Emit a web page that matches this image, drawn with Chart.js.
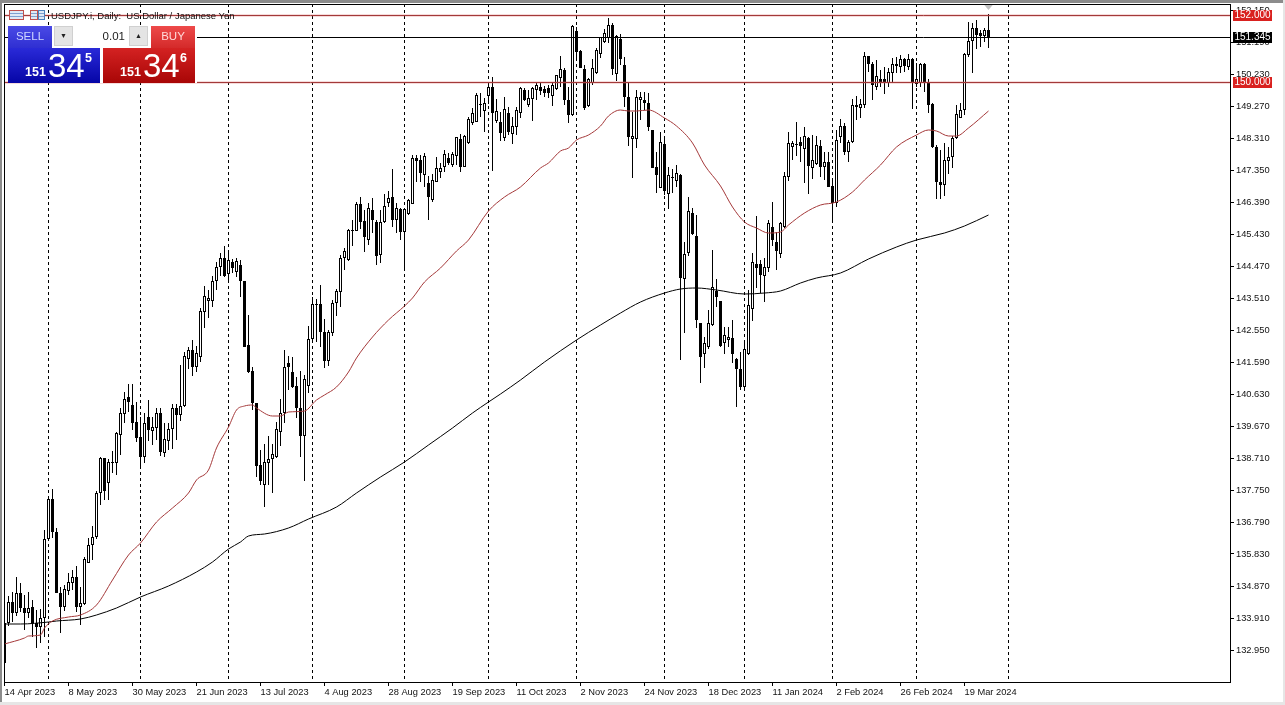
<!DOCTYPE html>
<html>
<head>
<meta charset="utf-8">
<title>USDJPY.i, Daily</title>
<script src="https://cdn.jsdelivr.net/npm/chart.js@4/dist/chart.umd.min.js"></script>
<style>
    html, body { margin: 0; padding: 0; background: #fff; overflow: hidden; }
    #wrap { position: relative; width: 1285px; height: 705px; font-family: "Liberation Sans", Arial, sans-serif; }
    canvas { display: block; }
    #title { position: absolute; left: 51px; top: 9px; font-size: 9.5px; line-height: 13px; color: #111; white-space: pre; }
    .ico { position: absolute; top: 10px; height: 10px; box-sizing: border-box; border: 1px solid #c0504d; background: repeating-linear-gradient(#dfe8f5 0 2px, #7f9fd0 2px 3px); }
    #panel { position: absolute; left: 8px; top: 26px; width: 189px; height: 57px; background: #fff; }
    .btn { position: absolute; top: 0; width: 44px; height: 22px; line-height: 21px; text-align: center; font-size: 11.5px; box-sizing: border-box; }
    #sell_btn { left: 0; background: linear-gradient(#4a4ae6, #2f2fd2); color: #cfd6ff; }
    #buy_btn { left: 143px; background: linear-gradient(#ee4a4a, #d42a2a); color: #ffd9d9; }
    .quote { position: absolute; top: 22px; width: 92px; height: 35px; color: #fff; }
    #bid_box { left: 0; background: linear-gradient(#2a2ad8, #0505a6); }
    #ask_box { left: 95px; background: linear-gradient(#d42222, #a80606); }
    .quote span { position: absolute; }
    .q_big { left: 40px; top: 0; font-size: 33px; line-height: 36px; }
    .q_small { left: 17px; top: 17px; font-size: 12.5px; line-height: 14px; font-weight: bold; }
    .q_pip { left: 77px; top: 3px; font-size: 12.5px; line-height: 14px; font-weight: bold; }
    .spin { position: absolute; top: 0; height: 20px; width: 19px; background: #e4e4e4; border: 1px solid #d0d0d0; box-sizing: border-box; text-align: center; font-size: 7px; line-height: 18px; color: #222; }
    #lot { position: absolute; left: 65px; top: 0; width: 56px; height: 20px; background: #fff; font-size: 11.5px; line-height: 20px; text-align: right; color: #222; padding-right: 4px; box-sizing: border-box; }
</style>
</head>
<body>
<div id="wrap">
    <canvas id="priceChart" width="1285" height="705"></canvas>
    <div class="ico" style="left:9px;width:15px;"></div>
    <div class="ico" style="left:30px;width:8px;"></div>
    <div class="ico" style="left:38px;width:7px;border-color:#4f81bd;"></div>
    <div id="title">USDJPY.i, Daily:  US Dollar / Japanese Yen</div>
    <div id="panel">
        <div id="sell_btn" class="btn">SELL</div>
        <div class="spin" style="left:46px;">▼</div>
        <div id="lot">0.01</div>
        <div class="spin" style="left:121px;">▲</div>
        <div id="buy_btn" class="btn">BUY</div>
        <div id="bid_box" class="quote"><span class="q_small">151</span><span class="q_big">34</span><span class="q_pip">5</span></div>
        <div id="ask_box" class="quote"><span class="q_small">151</span><span class="q_big">34</span><span class="q_pip">6</span></div>
    </div>
</div>

<script>
/* ── Data ─────────────────────────────────────────────── */
var opens = [
    133.76,133.76,134.39,134.06,134.66,134.21,134.06,134.24,133.76,133.64,
    133.91,136.28,137.48,136.49,134.66,134.24,134.72,134.96,135.14,134.24,
    134.33,135.56,136.10,136.34,137.66,138.71,137.96,138.59,138.56,139.40,
    140.03,140.54,140.30,139.79,139.34,138.74,139.94,139.52,139.61,140.06,
    138.86,139.22,139.58,140.21,140.00,140.27,141.68,141.95,141.44,141.74,
    143.09,143.42,143.42,144.02,144.44,144.71,144.23,144.59,144.29,144.50,
    144.02,142.10,141.32,140.36,138.50,137.90,138.56,138.68,138.74,139.49,
    140.06,141.56,141.29,140.87,140.21,139.37,140.87,142.28,143.30,143.33,
    142.49,141.62,142.46,143.36,143.69,144.71,144.65,145.52,145.52,146.33,
    145.82,145.25,146.15,145.79,144.80,145.79,146.36,146.54,145.85,146.18,
    145.49,146.03,146.33,147.71,147.65,147.20,146.96,146.45,146.99,147.29,
    147.44,147.71,147.50,147.77,148.28,147.44,148.16,148.76,148.79,149.30,
    149.12,149.57,149.84,148.82,148.79,148.31,149.06,148.43,148.64,149.06,
    149.75,149.30,149.48,149.75,149.84,149.78,149.81,149.57,149.78,150.11,
    150.35,149.45,149.00,151.52,150.92,150.38,149.27,149.96,150.26,150.83,
    151.19,151.31,151.70,150.23,151.28,150.50,149.54,148.28,148.28,149.45,
    149.45,149.36,148.55,147.44,146.81,148.13,146.63,147.11,147.02,147.20,
    144.08,144.86,146.06,145.37,142.76,141.83,142.04,142.70,143.72,143.42,
    142.16,142.25,142.31,141.68,141.38,140.84,141.83,143.18,144.53,144.53,
    144.17,144.41,145.64,145.19,144.83,145.64,147.14,148.04,148.13,148.19,
    147.98,148.31,147.41,147.53,148.07,147.44,147.59,146.87,146.36,148.34,
    148.67,147.89,148.19,149.30,149.21,149.30,150.77,150.53,149.84,150.08,
    150.08,149.96,150.26,150.53,150.44,150.68,150.44,150.68,149.93,149.96,
    150.53,149.99,149.33,148.04,146.99,146.90,147.62,147.74,148.31,148.91,
    149.15,150.80,151.22,151.61,151.46,151.37,151.55
];
var highs = [
    133.76,134.57,134.69,135.14,134.96,134.60,134.69,134.45,134.15,134.18,
    136.55,137.57,137.78,136.61,134.84,134.90,135.26,135.35,135.47,134.84,
    135.74,136.31,136.67,137.72,138.74,138.71,138.68,138.92,139.49,140.21,
    140.69,140.93,140.93,140.39,139.94,140.06,140.45,139.94,140.21,140.21,
    139.76,139.76,140.33,140.33,141.50,141.89,142.04,142.25,142.07,143.21,
    143.87,143.75,144.17,144.59,144.86,145.07,144.95,144.68,144.71,144.65,
    144.02,143.00,141.44,140.36,138.95,139.13,139.37,139.13,139.79,140.48,
    141.95,141.77,141.74,141.14,141.32,141.20,142.67,143.54,143.48,143.90,
    142.88,142.55,143.45,143.78,144.80,145.01,145.58,145.85,146.39,146.54,
    146.15,146.36,146.51,145.85,146.15,146.63,146.72,147.38,146.36,146.21,
    146.21,146.48,147.80,147.80,147.80,147.86,147.17,147.23,147.74,147.56,
    147.95,147.86,147.89,148.34,148.43,148.40,148.94,149.21,149.66,149.66,
    149.51,149.96,150.14,149.48,149.09,149.54,149.24,148.94,149.24,149.84,
    149.81,149.75,149.84,149.96,149.96,149.87,149.90,149.96,150.20,150.77,
    150.41,149.84,151.70,151.64,150.95,150.50,150.11,150.68,151.01,151.34,
    151.58,151.91,151.76,151.40,151.43,150.74,149.99,149.09,149.75,149.69,
    149.69,149.66,148.55,147.89,148.49,148.34,147.44,147.38,147.50,147.23,
    145.19,146.54,146.21,146.00,142.76,142.34,143.15,144.95,144.08,143.42,
    142.64,142.64,142.85,141.71,141.89,142.22,143.75,144.86,145.97,144.65,
    144.71,145.85,146.39,145.49,145.79,147.29,148.49,148.22,148.79,148.34,
    148.64,148.34,148.40,148.37,148.25,147.89,147.89,147.11,148.55,148.88,
    148.76,148.25,149.48,149.57,149.48,150.89,150.77,150.59,150.65,150.35,
    150.44,150.41,150.71,150.74,150.80,150.71,150.83,150.71,150.56,150.56,
    150.56,150.08,149.36,148.10,147.95,148.16,148.04,148.37,149.30,149.36,
    150.86,151.79,151.76,151.85,151.55,151.61,152.03
];
var lows = [
    132.56,133.67,133.79,133.97,134.09,133.55,133.91,133.34,133.01,133.16,
    133.34,136.25,136.31,134.66,133.46,134.12,134.60,134.75,134.09,133.70,
    134.30,135.56,135.65,136.28,137.30,137.45,137.45,138.26,138.20,138.80,
    139.76,140.09,139.55,139.19,138.41,138.56,139.22,139.10,139.25,138.77,
    138.74,138.95,138.98,139.25,139.82,140.24,141.38,141.17,141.29,141.59,
    142.61,142.91,143.24,143.75,144.17,144.14,143.99,144.26,144.14,143.54,
    142.04,141.26,140.15,138.14,137.90,137.24,137.90,137.66,138.71,139.07,
    139.76,140.75,140.81,139.91,138.74,138.02,140.66,142.25,142.19,142.04,
    141.41,141.47,142.37,142.97,143.24,144.35,144.62,145.07,145.52,145.58,
    144.89,145.10,145.46,144.50,144.56,145.76,146.24,145.64,145.46,145.25,
    144.32,146.00,146.33,146.99,146.99,146.84,145.85,146.39,146.99,147.11,
    147.29,147.50,147.44,147.50,147.29,147.44,148.13,148.70,148.79,148.94,
    148.49,149.33,147.32,148.76,148.22,148.22,148.40,148.13,148.40,148.91,
    149.42,149.24,148.82,149.45,149.60,149.54,149.51,149.27,149.75,149.84,
    149.30,148.76,148.97,150.62,150.41,149.15,149.24,149.90,150.23,150.71,
    151.16,151.16,150.20,150.02,150.50,149.24,148.07,147.11,148.01,148.85,
    149.15,148.52,147.41,146.66,146.81,146.60,146.18,146.66,146.84,141.65,
    142.46,144.77,145.40,142.61,140.96,141.41,141.98,142.67,143.24,142.04,
    141.83,142.04,141.56,140.24,140.75,140.78,141.80,142.82,143.81,143.66,
    143.39,144.29,145.07,144.35,144.71,145.61,147.02,147.65,147.77,147.59,
    146.96,146.63,147.08,147.50,147.14,147.05,146.84,145.85,146.24,148.16,
    147.80,147.59,148.16,148.85,148.91,149.21,150.29,149.45,149.75,149.84,
    149.63,149.84,149.96,150.26,150.26,150.29,150.35,149.18,149.84,149.84,
    149.69,149.06,148.01,146.48,146.48,146.57,147.23,147.41,148.28,148.91,
    149.00,150.74,150.26,150.98,151.04,151.19,151.01
];
var closes = [
    132.56,134.39,134.06,134.66,134.21,134.06,134.21,133.76,133.64,133.91,
    136.28,137.48,136.49,134.66,134.24,134.78,134.99,135.14,134.24,134.36,
    135.68,136.10,136.34,137.66,138.71,137.72,138.59,138.56,139.46,140.06,
    140.48,140.39,139.76,139.31,138.74,139.76,139.55,139.64,140.06,138.89,
    139.28,139.58,140.21,140.00,140.27,141.77,141.95,141.44,141.86,143.12,
    143.57,143.51,144.02,144.44,144.71,144.17,144.65,144.41,144.62,144.02,
    142.04,141.29,140.36,138.47,138.02,138.59,138.68,138.83,139.58,140.06,
    141.44,141.44,140.84,140.21,139.37,141.08,142.28,143.33,143.33,142.49,
    141.62,142.49,143.36,143.72,144.71,144.92,145.55,145.55,146.33,145.79,
    145.34,146.21,145.85,144.77,145.79,146.27,146.51,145.85,146.21,145.49,
    146.18,146.45,147.71,147.62,147.26,147.77,146.54,147.05,147.41,147.41,
    147.83,147.56,147.83,148.34,147.44,148.37,148.88,149.06,149.60,149.33,
    149.36,149.84,149.06,149.12,148.46,149.18,148.49,148.67,149.15,149.81,
    149.45,149.51,149.81,149.90,149.72,149.66,149.66,149.90,150.20,150.38,
    149.45,149.00,151.67,150.89,150.41,149.21,150.08,150.41,150.95,151.34,
    151.46,151.70,150.38,151.37,150.68,149.54,148.34,148.37,149.54,149.54,
    149.36,148.64,147.41,147.20,148.19,146.72,147.20,147.14,147.26,144.11,
    144.83,146.12,145.43,142.85,141.74,142.16,142.76,143.84,143.54,142.07,
    142.40,142.34,141.83,141.38,140.84,141.98,143.30,144.59,144.41,144.20,
    144.44,145.76,145.25,144.92,145.76,147.17,148.16,148.16,148.10,148.07,
    148.37,147.47,147.65,148.10,147.44,147.59,146.84,146.36,148.25,148.67,
    147.89,148.19,149.30,149.24,149.33,150.77,150.53,149.90,150.17,149.99,
    149.99,150.29,150.53,150.47,150.68,150.47,150.68,149.96,150.08,150.53,
    149.96,149.30,148.04,146.99,146.90,147.65,147.74,148.31,149.03,149.15,
    150.83,151.22,151.61,151.40,151.37,151.55,151.34
];

// moving averages at these bars
var ma50Bars = [0,5,6,9,10,12,16,19,23,27,31,34,38,42,46,48,51,53,56,58,60,62,63,67,69,71,75,78,80,83,86,88,92,96,100,102,105,109,113,116,121,125,129,134,136,139,141,143,146,149,151,154,156,158,161,165,168,172,175,179,182,185,188,191,194,196,200,204,208,212,215,219,223,228,231,233,236,238,241,246];
var ma50 = [133.13,133.31,133.37,133.40,133.61,133.82,133.94,134.00,134.30,135.05,135.80,136.16,136.79,137.21,137.66,138.05,138.35,139.01,139.64,140.15,140.27,140.30,140.21,139.97,139.97,140.09,140.12,140.45,140.60,140.84,141.29,141.71,142.34,142.85,143.27,143.51,143.99,144.41,144.92,145.25,146.12,146.54,146.84,147.41,147.56,147.92,148.01,148.25,148.40,148.67,148.97,149.15,149.12,149.12,149.15,148.91,148.67,148.16,147.50,146.87,146.24,145.79,145.61,145.46,145.49,145.70,146.06,146.30,146.39,146.69,147.05,147.50,148.04,148.40,148.55,148.52,148.37,148.37,148.61,149.12];
var ma200Bars = [0,4,11,13,19,23,28,34,41,48,52,56,59,61,65,71,76,83,88,94,100,106,112,117,121,124,129,135,143,149,154,159,165,169,173,178,185,190,194,199,203,209,216,223,228,235,240,246];
var ma200 = [133.73,133.73,133.79,133.82,133.88,134.00,134.21,134.54,134.87,135.29,135.59,135.98,136.19,136.37,136.43,136.61,136.88,137.24,137.66,138.14,138.59,139.10,139.61,140.06,140.39,140.63,141.05,141.59,142.25,142.70,143.06,143.39,143.66,143.78,143.81,143.75,143.63,143.66,143.72,143.96,144.11,144.26,144.68,145.04,145.25,145.46,145.67,146.00];

var xTickLabels = ['14 Apr 2023','8 May 2023','30 May 2023','21 Jun 2023','13 Jul 2023','4 Aug 2023','28 Aug 2023','19 Sep 2023','11 Oct 2023','2 Nov 2023','24 Nov 2023','18 Dec 2023','11 Jan 2024','2 Feb 2024','26 Feb 2024','19 Mar 2024'];
var yTickValues = [152.15,151.19,150.23,149.27,148.31,147.35,146.39,145.43,144.47,143.51,142.55,141.59,140.63,139.67,138.71,137.75,136.79,135.83,134.87,133.91,132.95];
var monthBars = [11,34,56,77,100,121,143,165,185,207,228,251];
var levelPrices = [152, 151.345, 150];
var levelLabels = ['152.000', '151.345', '150.000'];
var levelColors = ['#a33a3a', '#000000', '#a33a3a'];
var tagColors = ['#d9211f', '#000000', '#d9211f'];

var X_TICK_STEP = 16; // one date label every 16 bars
var AXIS_FONT = { family: '"Liberation Sans", Arial, sans-serif', size: 9.3 };

/* ── Helpers ──────────────────────────────────────────── */
function pairs(xs, ys) {
    return xs.map(function (x, i) { return { x: x, y: ys[i] }; });
}

function wickData() {
    return highs.map(function (h, i) { return { x: i, y: [lows[i], h] }; });
}

function bodyData() {
    return opens.map(function (o, i) { return { x: i, y: [o, closes[i]] }; });
}

function bodyColors() {
    return opens.map(function (o, i) { return closes[i] >= o ? '#ffffff' : '#000000'; });
}

/* ── Custom drawing on the library scales ─────────────── */
var chartDecor = {
    id: 'chartDecor',
    beforeDraw: function (chart) {
        var c = chart.ctx;
        c.save();
        c.fillStyle = '#ffffff';
        c.fillRect(0, 0, 1285, 705);
        c.fillStyle = '#8c8c8c';
        c.fillRect(0, 0, 1285, 3);
        c.fillRect(0, 0, 2, 705);
        c.fillStyle = '#e6e6e6';
        c.fillRect(0, 702, 1285, 3);
        c.fillRect(1283, 0, 2, 705);
        c.restore();
    },
    beforeDatasetsDraw: function (chart) {
        // month separators
        var c = chart.ctx, a = chart.chartArea, x = chart.scales.x;
        c.save();
        c.strokeStyle = '#000';
        c.lineWidth = 1;
        c.setLineDash([3, 3]);
        monthBars.forEach(function (b) {
            var px = x.getPixelForValue(b);
            c.beginPath();
            c.moveTo(px, a.top);
            c.lineTo(px, a.bottom);
            c.stroke();
        });
        c.restore();
    },
    afterDatasetsDraw: function (chart) {
        // price levels
        var c = chart.ctx, a = chart.chartArea, y = chart.scales.y, x = chart.scales.x;
        c.save();
        levelPrices.forEach(function (p, i) {
            var py = Math.round(y.getPixelForValue(p)) + 0.5;
            if (i !== 1) {
                c.strokeStyle = 'rgba(214,90,90,.22)';
                c.lineWidth = 3;
                c.beginPath();
                c.moveTo(a.left, py);
                c.lineTo(a.right, py);
                c.stroke();
            }
            c.strokeStyle = levelColors[i];
            c.lineWidth = 1;
            c.beginPath();
            c.moveTo(a.left, py);
            c.lineTo(a.right, py);
            c.stroke();
        });
        // shift marker
        var mx = x.getPixelForValue(opens.length - 1);
        c.fillStyle = '#c0c0c0';
        c.beginPath();
        c.moveTo(mx - 5, a.top);
        c.lineTo(mx + 5, a.top);
        c.lineTo(mx, a.top + 6);
        c.closePath();
        c.fill();
        c.restore();
    },
    afterDraw: function (chart) {
        var c = chart.ctx, a = chart.chartArea, y = chart.scales.y;
        c.save();
        c.strokeStyle = '#000';
        c.lineWidth = 1;
        c.strokeRect(a.left + 0.5, a.top + 0.5, a.right - a.left, a.bottom - a.top);
        // level tags on the price axis
        c.font = '10px "Liberation Sans", Arial, sans-serif';
        c.textAlign = 'center';
        c.textBaseline = 'middle';
        levelPrices.forEach(function (p, i) {
            var py = Math.round(y.getPixelForValue(p));
            c.fillStyle = tagColors[i];
            c.fillRect(1233, py - 5, 39, 11);
            c.fillStyle = '#fff';
            c.fillText(levelLabels[i], 1252.5, py + 0.5);
        });
        c.restore();
    }
};

/* ── Chart ────────────────────────────────────────────── */
new Chart(document.getElementById('priceChart'), {
    type: 'bar',
    data: {
        datasets: [
            {
                type: 'line', label: 'MA 50', data: pairs(ma50Bars, ma50), order: 1,
                borderColor: '#a5393a', borderWidth: 1, pointRadius: 0, cubicInterpolationMode: 'monotone'
            },
            {
                type: 'line', label: 'MA 200', data: pairs(ma200Bars, ma200), order: 2,
                borderColor: '#000000', borderWidth: 1, pointRadius: 0, cubicInterpolationMode: 'monotone'
            },
            {
                label: 'Body', data: bodyData(), order: 3, barThickness: 3, grouped: false,
                backgroundColor: bodyColors(), borderColor: '#000000', borderWidth: 1,
                borderSkipped: false, inflateAmount: 0
            },
            {
                label: 'Wick', data: wickData(), order: 4, barThickness: 1, grouped: false,
                backgroundColor: '#000000', borderWidth: 0, inflateAmount: 0
            }
        ]
    },
    options: {
        responsive: false,
        animation: false,
        events: [],
        layout: { padding: { left: 4, top: 4, right: 0, bottom: 0 } },
        plugins: { legend: { display: false }, tooltip: { enabled: false } },
        scales: {
            x: {
                type: 'linear',
                offset: false,
                min: -0.125,
                max: 306.375,
                afterFit: function (s) { s.height = 23; s.paddingLeft = 0; s.paddingRight = 0; },
                afterBuildTicks: function (s) {
                    s.ticks = xTickLabels.map(function (l, i) { return { value: i * X_TICK_STEP }; });
                },
                afterTickToLabelConversion: function (s) {
                    s.ticks.forEach(function (t, i) { t.label = xTickLabels[i]; });
                },
                border: { display: false },
                grid: { drawOnChartArea: false, offset: false, color: '#000', tickLength: 4, tickWidth: 1 },
                ticks: { autoSkip: false, maxRotation: 0, align: 'start', padding: 1, color: '#111', font: AXIS_FONT }
            },
            y: {
                position: 'right',
                min: 131.99,
                max: 152.33,
                afterFit: function (s) { s.width = 55; s.paddingTop = 0; s.paddingBottom = 0; },
                afterBuildTicks: function (s) {
                    s.ticks = yTickValues.map(function (v) { return { value: v }; });
                },
                border: { display: false },
                grid: { drawOnChartArea: false, color: '#000', tickLength: 4, tickWidth: 1 },
                ticks: {
                    autoSkip: false, padding: 2, color: '#111', font: AXIS_FONT,
                    callback: function (v) { return Number(v).toFixed(3); }
                }
            }
        }
    },
    plugins: [chartDecor]
});
</script>
</body>
</html>
